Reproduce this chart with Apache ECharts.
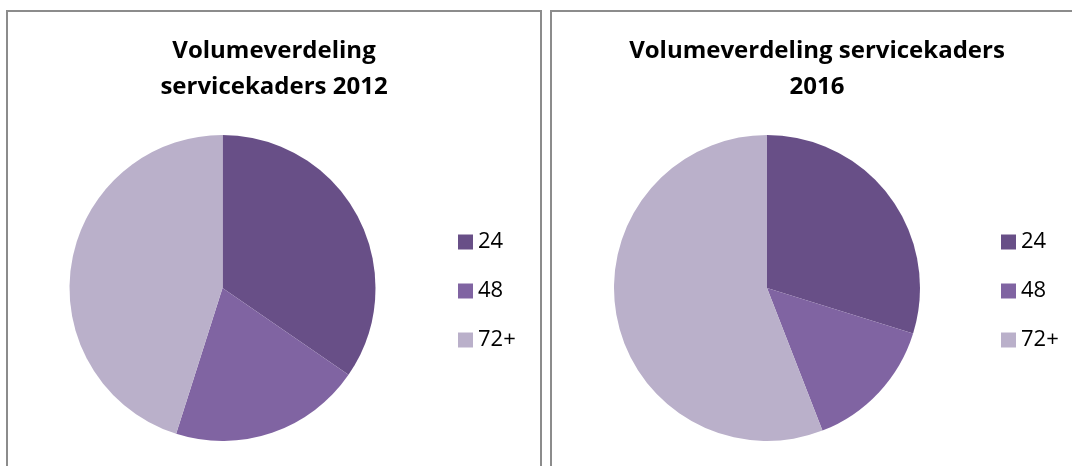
<!DOCTYPE html>
<html>
<head>
<meta charset="utf-8">
<script src="https://cdn.jsdelivr.net/npm/echarts@6/dist/echarts.min.js"></script>
<style>
html,body{margin:0;padding:0;background:#fff;}
#c{width:1072px;height:466px;}
</style>
</head>
<body>
<div id="c"></div>
<script>
const categories = ['24', '48', '72+'];
const values2012 = [34.6, 20.3, 45.1];
const values2016 = [29.8, 14.3, 55.9];
const titles2012 = ['Volumeverdeling', 'servicekaders 2012'];
const titles2016 = ['Volumeverdeling servicekaders', '2016'];
const colors = ['#684F87', '#8064A2', '#BAB0CA'];

const chart = echarts.init(document.getElementById('c'), null, {renderer: 'canvas'});
const toData = vals => categories.map((c, i) => ({name: c, value: vals[i]}));
const titleFont = 'bold 24px "Open Sans"';
function titleText(x, y, t) {
  return {type: 'text', x: x, y: y, style: {text: t, font: titleFont, fill: '#000', align: 'center', verticalAlign: 'middle'}};
}
const legendCommon = {
  orient: 'vertical', data: categories, itemWidth: 15, itemHeight: 15, itemGap: 27,
  icon: 'rect', selectedMode: false,
  textStyle: {fontFamily: 'Open Sans', fontSize: 22, color: '#000'}
};
const pieCommon = {
  type: 'pie', radius: 153, startAngle: 90, clockwise: true,
  label: {show: false}, labelLine: {show: false}, silent: true,
  itemStyle: {borderWidth: 0}, emphasis: {disabled: true}
};
chart.setOption({
  animation: false,
  color: colors,
  graphic: [
    {type: 'rect', shape: {x: 7, y: 11, width: 534, height: 500}, style: {fill: 'none', stroke: '#8c8c8c', lineWidth: 2}},
    {type: 'rect', shape: {x: 551, y: 11, width: 600, height: 500}, style: {fill: 'none', stroke: '#8c8c8c', lineWidth: 2}},
    titleText(274, 51, titles2012[0]),
    titleText(274, 87, titles2012[1]),
    titleText(817, 51, titles2016[0]),
    titleText(817, 87, titles2016[1])
  ],
  legend: [
    Object.assign({left: 453, top: 226}, legendCommon),
    Object.assign({left: 996, top: 226}, legendCommon)
  ],
  series: [
    Object.assign({center: [222.5, 288], data: toData(values2012)}, pieCommon),
    Object.assign({center: [767, 288], data: toData(values2016)}, pieCommon)
  ]
});
</script>
</body>
</html>
